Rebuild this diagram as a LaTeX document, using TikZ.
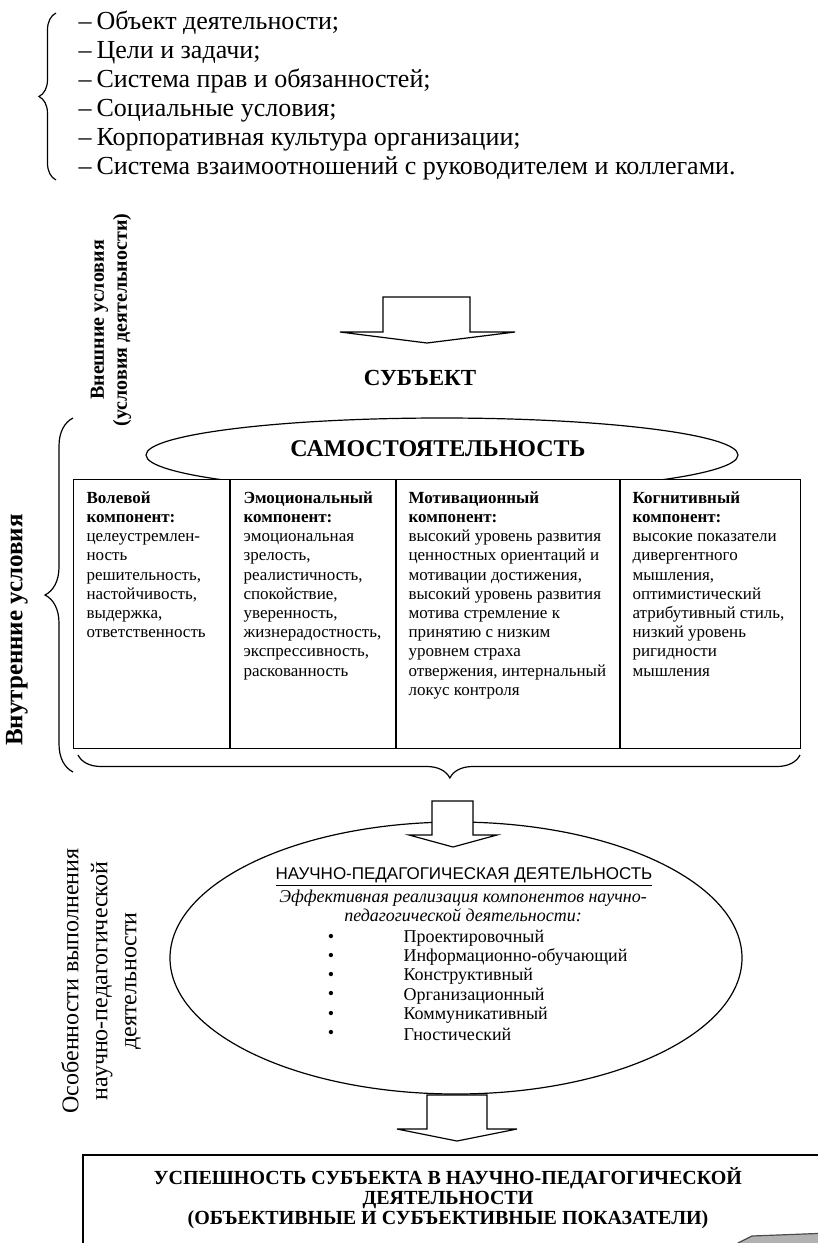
\documentclass[tikz,border=0pt]{standalone}
\usepackage{fontspec}
\setmainfont{Liberation Serif}[BoldFont={Liberation Serif Bold},ItalicFont={Liberation Serif Italic}]
\newfontfamily\arialfont{Liberation Sans}
\usepackage{tikz}
\usetikzlibrary{shapes.geometric,decorations.pathreplacing,positioning,calc}

\begin{document}
\begin{tikzpicture}[x=0.5pt,y=-0.5pt,line width=0.6pt,
			list text/.style={anchor=north west, align=left, inner sep=0pt, font=\fontsize{13}{14.5}\selectfont},
			side label/.style={rotate=90, align=center, inner sep=0pt},
			comp text/.style={anchor=north west, align=left, inner sep=0pt, font=\fontsize{8.5}{9.6}\selectfont},
			title node/.style={inner sep=0pt, font=\fontsize{12}{14}\selectfont\bfseries},
			oval node/.style={ellipse, draw=black, fill=white, inner sep=0pt},
			block arrow/.style={draw=black, fill=white, line join=miter},
			brace line/.style={decorate, decoration={brace, amplitude=#1}},
			item text/.style={anchor=west, inner sep=0pt, font=\fontsize{9}{10}\selectfont}]
			\path[use as bounding box] (0,0) rectangle (818,1243);
			\clip (0,0) rectangle (818,1243);
			
			% external conditions
			\node[list text] (1) at (78,10) {%
				\makebox[9pt][l]{–}Объект деятельности;\\
				\makebox[9pt][l]{–}Цели и задачи;\\
				\makebox[9pt][l]{–}Система прав и обязанностей;\\
				\makebox[9pt][l]{–}Социальные условия;\\
				\makebox[9pt][l]{–}Корпоративная культура организации;\\
				\makebox[9pt][l]{–}Система взаимоотношений с руководителем и коллегами.};
			\draw[brace line=8.5pt] (56,180) -- (56,13);
			\node[side label, font=\fontsize{10}{11.5}\selectfont\bfseries] (2) at (111,320) {Внешние условия\\(условия деятельности)};
			
			\draw[block arrow] (383,297) -- (470,297) -- (470,332) -- (515,332) -- (427,343) -- (340,332) -- (383,332) -- cycle;
			\node[title node, font=\fontsize{11.5}{14}\selectfont\bfseries] (3) at (420,378) {СУБЪЕКТ};
			
			% internal conditions
			\node[oval node, minimum width=296pt, minimum height=37pt] (4) at (442,455) {};
			\node[title node] (5) at (438,449) {САМОСТОЯТЕЛЬНОСТЬ};
			\node[draw, fill=white, anchor=north west, inner sep=0pt, minimum width=363.5pt, minimum height=134.5pt] (6) at (73,479) {};
			\foreach \x in {230,396,620}
				\draw (\x,479) -- (\x,748);
			
			\node[comp text] (7) at (86,491) {\textbf{Волевой}\\ \textbf{компонент:}\\целеустремлен-\\ность\\решительность,\\настойчивость,\\выдержка,\\ответственность};
			\node[comp text] (8) at (243,491) {\textbf{Эмоциональный}\\ \textbf{компонент:}\\эмоциональная\\зрелость,\\реалистичность,\\спокойствие,\\уверенность,\\жизнерадостность,\\экспрессивность,\\раскованность};
			\node[comp text] (9) at (408,491) {\textbf{Мотивационный}\\ \textbf{компонент:}\\высокий уровень развития\\ценностных ориентаций и\\мотивации достижения,\\высокий уровень развития\\мотива стремление к\\принятию с низким\\уровнем страха\\отвержения, интернальный\\локус контроля};
			\node[comp text] (10) at (632,491) {\textbf{Когнитивный}\\ \textbf{компонент:}\\высокие показатели\\дивергентного\\мышления,\\оптимистический\\атрибутивный стиль,\\низкий уровень\\ригидности\\мышления};
			
			\draw[brace line=14pt] (73,772) -- (73,418);
			\node[side label, font=\fontsize{12.5}{14}\selectfont\bfseries] (11) at (17,630) {Внутренние условия};
			\draw[brace line=11.5pt, decoration={aspect=0.485}] (800,755) -- (78,755);
			
			% activity
			\node[oval node, minimum width=286pt, minimum height=136pt] (12) at (456,958) {};
			\node[inner sep=0pt, font=\arialfont\fontsize{8.5}{10}\selectfont] (13) at (464,877) {\underline{НАУЧНО-ПЕДАГОГИЧЕСКАЯ ДЕЯТЕЛЬНОСТЬ}};
			\node[inner sep=0pt, align=center, font=\itshape\fontsize{9}{9.6}\selectfont] (14) at (463,906) {Эффективная реализация компонентов научно-\\педагогической деятельности:};
			\foreach \t [count=\i] in {Проектировочный,Информационно-обучающий,Конструктивный,Организационный,Коммуникативный,Гностический}{
				\node[inner sep=0pt, font=\fontsize{9}{10}\selectfont] (b\i) at (331,{938+19.3*(\i-1)}) {•};
				\node[item text] (it\i) at (403,{938+19.3*(\i-1)}) {\t};
			}
			\node[side label, font=\fontsize{12}{14.5}\selectfont] (15) at (101,981) {Особенности выполнения\\научно-педагогической\\деятельности};
			
			\draw[block arrow] (432,801) -- (473,801) -- (473,835) -- (497,835) -- (453,847) -- (409,835) -- (432,835) -- cycle;
			\draw[block arrow] (427,1095) -- (487,1095) -- (487,1129) -- (517,1129) -- (457,1141) -- (397,1129) -- (427,1129) -- cycle;
			
			% result
			\draw (83,1155) rectangle (840,1270);
			\node[inner sep=0pt, align=center, font=\fontsize{10}{10}\selectfont\bfseries, anchor=north] (16) at (448,1167) {УСПЕШНОСТЬ СУБЪЕКТА В НАУЧНО-ПЕДАГОГИЧЕСКОЙ\\ДЕЯТЕЛЬНОСТИ\\(ОБЪЕКТИВНЫЕ И СУБЪЕКТИВНЫЕ ПОКАЗАТЕЛИ)};
			\filldraw[fill=black!30, draw=black!70] (738,1243) -- (752,1236) -- (830,1233) -- (830,1246) -- (738,1246) -- cycle;
		\end{tikzpicture}
\end{document}
